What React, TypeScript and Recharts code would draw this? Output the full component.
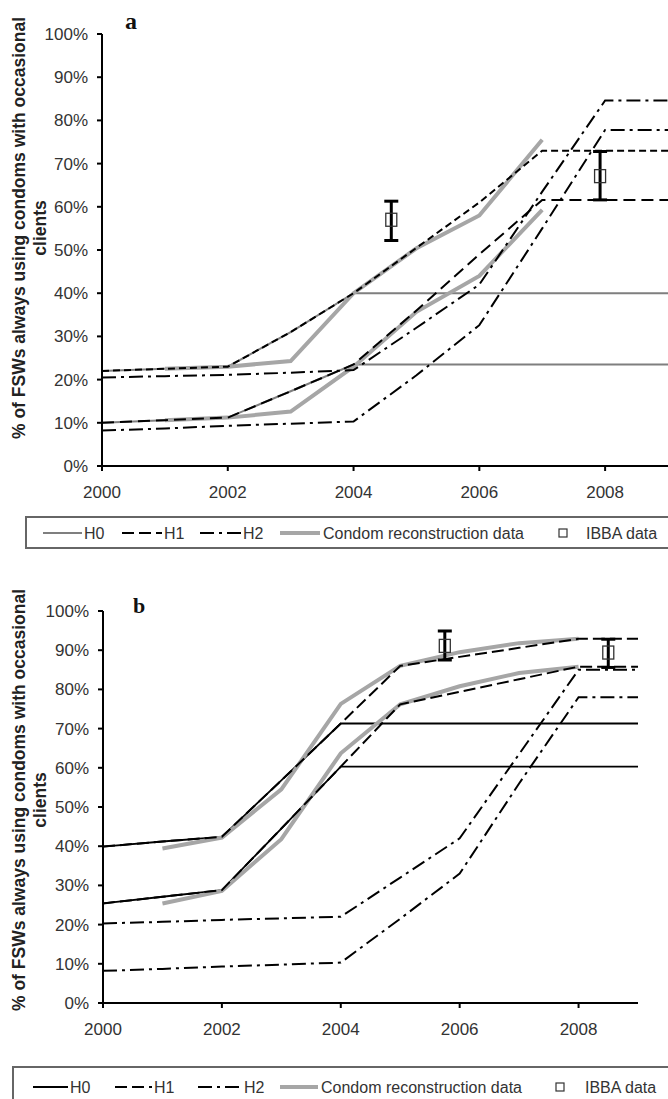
import React from "react";
import { ComposedChart, Line, Scatter, ErrorBar, XAxis, YAxis } from "recharts";

// shared axes
const YEARS = [2000, 2001, 2002, 2003, 2004, 2005, 2006, 2007, 2008, 2009];
const X_TICKS = [2000, 2002, 2004, 2006, 2008];
const Y_TICKS = [0, 10, 20, 30, 40, 50, 60, 70, 80, 90, 100];

// panel a (values in %)
const A_H0_UP = [22, 22.5, 23, 31, 40, 40, 40, 40, 40, 40];
const A_H0_LO = [10, 10.6, 11.2, 17.3, 23.5, 23.5, 23.5, 23.5, 23.5, 23.5];
const A_H1_UP = [22, 22.5, 23, 31, 40, 50.5, 61, 73, 73, 73];
const A_H1_LO = [10, 10.6, 11.2, 17.3, 23.5, 36, 49, 61.6, 61.6, 61.6];
const A_H2_UP = [20.5, 20.8, 21.1, 21.6, 22.2, 32, 42, 63.5, 84.6, 84.6];
const A_H2_LO = [8.2, 8.7, 9.3, 9.8, 10.3, 21, 32.6, 55, 77.8, 77.8];
const A_COND_YEARS = [2001, 2002, 2003, 2004, 2005, 2006, 2007];
const A_COND_UP = [22.5, 23, 24.3, 40, 50.4, 58, 75.5];
const A_COND_LO = [10.6, 11.2, 12.6, 23, 35.7, 44, 59.3];
const A_IBBA_YEARS = [2004.6, 2007.92];
const A_IBBA = [57, 67.1];
const A_IBBA_LOW = [52.2, 61.6];
const A_IBBA_HIGH = [61.3, 72.8];

// panel b
const B_H0_UP = [39.9, 41.2, 42.4, 56.8, 71.3, 71.3, 71.3, 71.3, 71.3, 71.3];
const B_H0_LO = [25.4, 27.1, 28.8, 44.5, 60.3, 60.3, 60.3, 60.3, 60.3, 60.3];
const B_H1_UP = [39.9, 41.2, 42.4, 56.8, 71.3, 86, 88.3, 90.6, 92.9, 92.9];
const B_H1_LO = [25.4, 27.1, 28.8, 44.5, 60.3, 76.2, 79.4, 82.6, 85.8, 85.8];
const B_H2_UP = [20.3, 20.7, 21.2, 21.6, 22, 32, 42, 63.5, 85, 85];
const B_H2_LO = [8.2, 8.7, 9.3, 9.8, 10.3, 21.5, 33, 56, 78, 78];
const B_COND_YEARS = [2001, 2002, 2003, 2004, 2005, 2006, 2007, 2008];
const B_COND_UP = [39.4, 42.2, 54.5, 76.3, 86, 89.5, 91.8, 92.9];
const B_COND_LO = [25.4, 28.6, 41.8, 63.7, 76.2, 80.8, 84.2, 85.8];
const B_IBBA_YEARS = [2005.75, 2008.5];
const B_IBBA = [91.1, 89.4];
const B_IBBA_LOW = [87.5, 85.6];
const B_IBBA_HIGH = [94.9, 92.8];

const SANS = "'Liberation Sans', Arial, sans-serif";
const SERIF = "'Liberation Serif', 'Times New Roman', serif";
const GREY = "#a6a6a6";
const DASH_DOT = "14 5 3 5";

const toPoints = (xs: number[], vs: number[]) =>
  xs.map((year, i) => ({ year, v: vs[i] }));

const toIbba = (xs: number[], vs: number[], lo: number[], hi: number[]) =>
  xs.map((year, i) => ({ year, v: vs[i], err: [vs[i] - lo[i], hi[i] - vs[i]] }));

function IbbaSquare(props: any) {
  const { cx, cy } = props;
  return (
    <rect
      x={cx - 5.5}
      y={cy - 6.5}
      width={11}
      height={13}
      fill="none"
      stroke="#333"
      strokeWidth={1.3}
    />
  );
}

function Panel(props: any) {
  const {
    top, height, margin, h0Color, h0Width, h1UpDash, h1LoDash,
    h0Up, h0Lo, h1Up, h1Lo, h2Up, h2Lo, condUp, condLo, ibba,
  } = props;
  const tick = { fill: "#333", fontSize: 17, fontFamily: SANS };
  const axisLine = { stroke: "#000", strokeWidth: 2 };

  return (
    <div style={{ position: "absolute", left: 0, top }}>
      <ComposedChart width={668} height={height} margin={margin}>
        <XAxis
          dataKey="year"
          type="number"
          domain={[2000, 2009]}
          ticks={X_TICKS}
          height={34}
          tickSize={5}
          tickMargin={15}
          tick={tick}
          axisLine={axisLine}
          tickLine={axisLine}
          allowDataOverflow
        />
        <YAxis
          type="number"
          domain={[0, 100]}
          ticks={Y_TICKS}
          tickFormatter={(v: number) => `${v}%`}
          width={60}
          tickSize={5}
          tickMargin={9}
          tick={tick}
          axisLine={axisLine}
          tickLine={axisLine}
        />

        <Line data={h0Up} dataKey="v" stroke={h0Color} strokeWidth={h0Width} dot={false} activeDot={false} isAnimationActive={false} />
        <Line data={h0Lo} dataKey="v" stroke={h0Color} strokeWidth={h0Width} dot={false} activeDot={false} isAnimationActive={false} />

        <Line data={condUp} dataKey="v" stroke={GREY} strokeWidth={4} dot={false} activeDot={false} isAnimationActive={false} />
        <Line data={condLo} dataKey="v" stroke={GREY} strokeWidth={4} dot={false} activeDot={false} isAnimationActive={false} />

        <Line data={h1Up} dataKey="v" stroke="#000" strokeWidth={2} strokeDasharray={h1UpDash} dot={false} activeDot={false} isAnimationActive={false} />
        <Line data={h1Lo} dataKey="v" stroke="#000" strokeWidth={2} strokeDasharray={h1LoDash} dot={false} activeDot={false} isAnimationActive={false} />

        <Line data={h2Up} dataKey="v" stroke="#000" strokeWidth={2} strokeDasharray={DASH_DOT} dot={false} activeDot={false} isAnimationActive={false} />
        <Line data={h2Lo} dataKey="v" stroke="#000" strokeWidth={2} strokeDasharray={DASH_DOT} dot={false} activeDot={false} isAnimationActive={false} />

        <Scatter data={ibba} dataKey="v" shape={IbbaSquare} isAnimationActive={false}>
          <ErrorBar dataKey="err" direction="y" width={7} strokeWidth={3} stroke="#000" isAnimationActive={false} />
        </Scatter>
      </ComposedChart>
    </div>
  );
}

function LegendRow(props: any) {
  const { y, h0Color, h0, h1, h2, cond, sq, ibbaText } = props;
  const txt = { fontSize: 16, fontFamily: SANS, fill: "#333" };
  return (
    <g>
      <line x1={h0[0]} x2={h0[1]} y1={y} y2={y} stroke={h0Color} strokeWidth={2} />
      <text x={h0[1] + 2} y={y} dominantBaseline="central" {...txt}>H0</text>
      <line x1={h1[0]} x2={h1[1]} y1={y} y2={y} stroke="#000" strokeWidth={2} strokeDasharray="12 5" />
      <text x={h1[1] + 2} y={y} dominantBaseline="central" {...txt}>H1</text>
      <line x1={h2[0]} x2={h2[1]} y1={y} y2={y} stroke="#000" strokeWidth={2} strokeDasharray={DASH_DOT} />
      <text x={h2[1] + 2} y={y} dominantBaseline="central" {...txt}>H2</text>
      <line x1={cond[0]} x2={cond[1]} y1={y} y2={y} stroke={GREY} strokeWidth={4} />
      <text x={cond[1] + 3} y={y} dominantBaseline="central" {...txt}>Condom reconstruction data</text>
      <rect x={sq - 4} y={y - 4} width={8} height={8} fill="none" stroke="#333" strokeWidth={1.2} />
      <text x={ibbaText} y={y} dominantBaseline="central" {...txt}>IBBA data</text>
    </g>
  );
}

function YLabel({ cy }: { cy: number }) {
  const style = { fontSize: 17.5, fontFamily: SANS, fontWeight: 700, fill: "#222" };
  return (
    <g>
      <text transform={`translate(19,${cy}) rotate(-90)`} textAnchor="middle" dominantBaseline="central" {...style}>
        % of FSWs always using condoms with occasional
      </text>
      <text transform={`translate(40,${cy}) rotate(-90)`} textAnchor="middle" dominantBaseline="central" {...style}>
        clients
      </text>
    </g>
  );
}

export default function App() {
  return (
    <div
      style={{
        position: "absolute",
        left: 0,
        top: 0,
        width: 668,
        height: 1099,
        overflow: "hidden",
        background: "#fff",
      }}
    >
      <Panel
        top={0}
        height={514}
        margin={{ top: 34, right: 0, bottom: 14, left: 42 }}
        h0Color="#7f7f7f"
        h0Width={2}
        h1UpDash="7 4"
        h1LoDash="12 6"
        h0Up={toPoints(YEARS, A_H0_UP)}
        h0Lo={toPoints(YEARS, A_H0_LO)}
        h1Up={toPoints(YEARS, A_H1_UP)}
        h1Lo={toPoints(YEARS, A_H1_LO)}
        h2Up={toPoints(YEARS, A_H2_UP)}
        h2Lo={toPoints(YEARS, A_H2_LO)}
        condUp={toPoints(A_COND_YEARS, A_COND_UP)}
        condLo={toPoints(A_COND_YEARS, A_COND_LO)}
        ibba={toIbba(A_IBBA_YEARS, A_IBBA, A_IBBA_LOW, A_IBBA_HIGH)}
      />
      <Panel
        top={560}
        height={494}
        margin={{ top: 51, right: 30, bottom: 17, left: 43 }}
        h0Color="#000"
        h0Width={1.8}
        h1UpDash="12 5"
        h1LoDash="12 5"
        h0Up={toPoints(YEARS, B_H0_UP)}
        h0Lo={toPoints(YEARS, B_H0_LO)}
        h1Up={toPoints(YEARS, B_H1_UP)}
        h1Lo={toPoints(YEARS, B_H1_LO)}
        h2Up={toPoints(YEARS, B_H2_UP)}
        h2Lo={toPoints(YEARS, B_H2_LO)}
        condUp={toPoints(B_COND_YEARS, B_COND_UP)}
        condLo={toPoints(B_COND_YEARS, B_COND_LO)}
        ibba={toIbba(B_IBBA_YEARS, B_IBBA, B_IBBA_LOW, B_IBBA_HIGH)}
      />

      <svg
        width={668}
        height={1099}
        style={{ position: "absolute", left: 0, top: 0, pointerEvents: "none" }}
      >
        <text x={125} y={29} fontSize={24} fontWeight={700} fontFamily={SERIF} fill="#111">a</text>
        <text x={133} y={613} fontSize={22} fontWeight={700} fontFamily={SERIF} fill="#111">b</text>

        <YLabel cy={228} />
        <YLabel cy={800} />

        <rect x={26} y={517} width={660} height={31} fill="none" stroke="#666" strokeWidth={2} />
        <LegendRow y={533} h0Color="#7f7f7f" h0={[43, 82]} h1={[122, 162]} h2={[200, 241]} cond={[280, 320]} sq={563} ibbaText={586} />

        <rect x={13} y={1067} width={670} height={50} fill="none" stroke="#666" strokeWidth={2} />
        <LegendRow y={1087} h0Color="#000" h0={[33, 68]} h1={[115, 152]} h2={[198, 242]} cond={[280, 318]} sq={560} ibbaText={585} />
      </svg>
    </div>
  );
}
